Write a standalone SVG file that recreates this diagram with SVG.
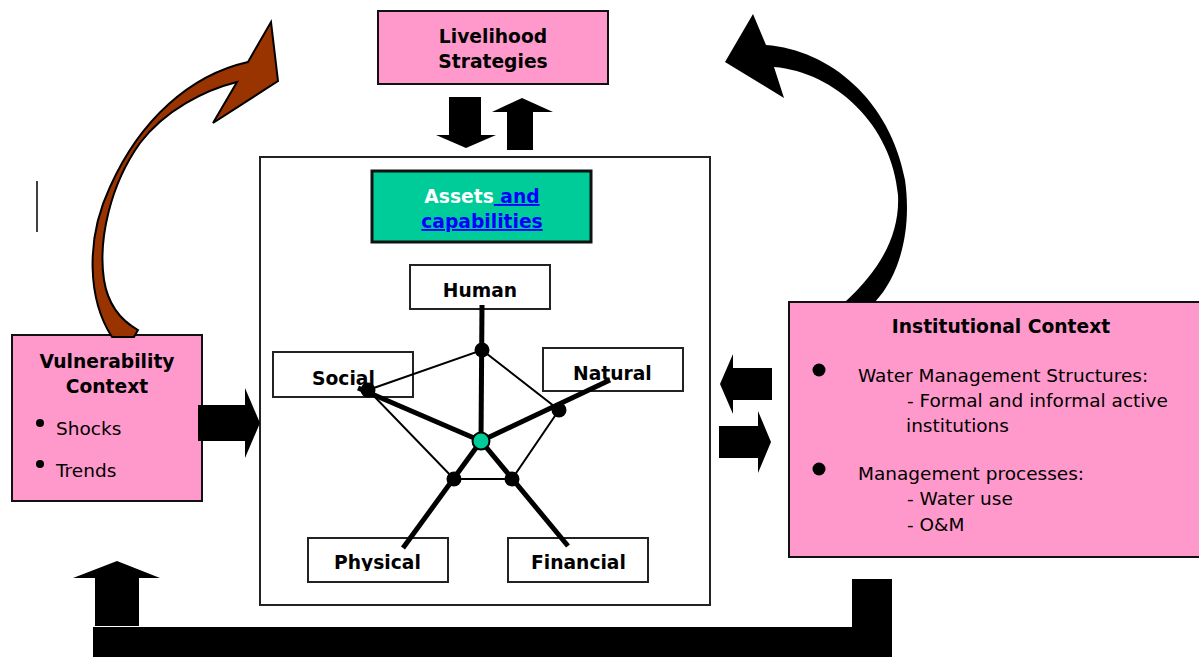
<svg xmlns="http://www.w3.org/2000/svg" width="1199" height="657" viewBox="0 0 1199 657">
<style>
.b{font-family:"DejaVu Sans",Verdana,sans-serif;font-weight:bold;font-size:18.7px;fill:#000}
.r{font-family:"DejaVu Sans",Verdana,sans-serif;font-size:18.5px;fill:#000}
.link{fill:#0000FF;text-decoration:underline}
.pink{fill:#FF99CC;stroke:#111;stroke-width:2}
.lbl{fill:#fff;stroke:#222;stroke-width:2}
.blk{fill:#000;stroke:none}
.thin{stroke:#000;stroke-width:2;fill:none}
.thick{stroke:#000;stroke-width:5;fill:none}
.dot{fill:#000}
</style>
<defs>
<clipPath id="cut"><rect x="0" y="0" width="1199" height="571"/></clipPath>
</defs>
<rect width="1199" height="657" fill="#fff"/>

<line x1="37" y1="181" x2="37" y2="232" stroke="#000" stroke-width="1.5"/>

<g id="livelihood">
<rect class="pink" x="378" y="11" width="230" height="73"/>
<text class="b" x="493" y="43" text-anchor="middle">Livelihood</text>
<text class="b" x="493" y="68" text-anchor="middle">Strategies</text>
</g>

<g id="assets-frame">
<rect x="260" y="157" width="450" height="448" fill="#fff" stroke="#222" stroke-width="2"/>
</g>

<g id="assets">
<rect x="372" y="171" width="219" height="71" fill="#00CC99" stroke="#111" stroke-width="3"/>
<text class="b" x="482" y="203" text-anchor="middle"><tspan style="fill:#fff">Assets</tspan><tspan class="link"> and</tspan></text>
<text class="b" x="482" y="228" text-anchor="middle"><tspan class="link">capabilities</tspan></text>
</g>

<g id="vulnerability">
<rect class="pink" x="12" y="335" width="190" height="166"/>
<text class="b" x="107" y="368" text-anchor="middle">Vulnerability</text>
<text class="b" x="107" y="393" text-anchor="middle">Context</text>
<circle cx="40" cy="423" r="4"/>
<text class="r" x="56" y="435">Shocks</text>
<circle cx="40" cy="464" r="4"/>
<text class="r" x="56" y="477">Trends</text>
</g>

<g id="institutional">
<rect class="pink" x="789" y="302" width="420" height="255"/>
<text class="b" x="1001" y="333" text-anchor="middle">Institutional Context</text>
<circle cx="819" cy="370" r="6.5"/>
<text class="r" x="858" y="382">Water Management Structures:</text>
<text class="r" x="907" y="407">- Formal and informal active</text>
<text class="r" x="906" y="432">institutions</text>
<circle cx="819" cy="469" r="6.5"/>
<text class="r" x="858" y="480">Management processes:</text>
<text class="r" x="907" y="505">- Water use</text>
<text class="r" x="907" y="531">- O&amp;M</text>
</g>

<g id="human">
<rect class="lbl" x="410" y="265" width="140" height="44"/>
<text class="b" x="480" y="297" text-anchor="middle">Human</text>
</g>
<g id="social">
<rect class="lbl" x="273" y="352" width="140" height="45"/>
<text class="b" x="312" y="385">Social</text>
</g>
<g id="natural">
<rect class="lbl" x="543" y="348" width="140" height="43"/>
<text class="b" x="573" y="380">Natural</text>
</g>
<g id="physical">
<rect class="lbl" x="308" y="538" width="140" height="44"/>
<text class="b" x="334" y="569" clip-path="url(#cut)">Physical</text>
</g>
<g id="financial">
<rect class="lbl" x="508" y="538" width="140" height="44"/>
<text class="b" x="531" y="569" clip-path="url(#cut)">Financial</text>
</g>

<g id="connectors">
<polygon class="thin" points="482,350 559,410 512,479 454,479 368,390"/>
<line class="thick" x1="482" y1="305" x2="481" y2="441"/>
<line class="thick" x1="358" y1="388" x2="481" y2="441"/>
<line class="thick" x1="610" y1="380" x2="481" y2="441"/>
<line class="thick" x1="403" y1="548" x2="481" y2="441"/>
<line class="thick" x1="568" y1="546" x2="481" y2="441"/>
<circle class="dot" cx="482" cy="350" r="7.5"/>
<circle class="dot" cx="368" cy="390" r="7.5"/>
<circle class="dot" cx="559" cy="410" r="7.5"/>
<circle class="dot" cx="454" cy="479" r="7.5"/>
<circle class="dot" cx="512" cy="479" r="7.5"/>
<circle cx="481" cy="441" r="8.5" fill="#00CC99" stroke="#000" stroke-width="2"/>

<polygon class="blk" points="449,97 481,97 481,135 496,135 466,148 436,135 449,135"/>
<polygon class="blk" points="507,150 533,150 533,112 553,112 522,98 492,112 507,112"/>
<polygon class="blk" points="198,405 245,405 245,388 260,423 245,458 245,441 198,441"/>
<polygon class="blk" points="772,368 733,368 733,354 720,384 733,414 733,400 772,400"/>
<polygon class="blk" points="719,426 758,426 758,411 771,442 758,473 758,458 719,458"/>
<polygon class="blk" points="95,626 139,626 139,578 160,578 117,561 73,578 95,578"/>
<polygon class="blk" points="93,627 852,627 852,579 892,579 892,657 93,657"/>

<path d="M271,22 L278,81 L213,123 L237,82 C205,90 165,110 140,143 C110,185 98,240 104,280 C108,305 120,320 138,330 L134,337 L112,337 C88,300 85,240 110,187 C140,120 190,75 248,62 Z" fill="#993300" stroke="#000" stroke-width="2"/>
<path d="M753,14 L766,45 C830,50 890,100 905,180 C912,230 900,275 875,302 L845,302 C880,270 900,235 898,195 C892,125 835,72 774,67 L784,98 L725,62 Z" fill="#000"/>
</g>
</svg>
